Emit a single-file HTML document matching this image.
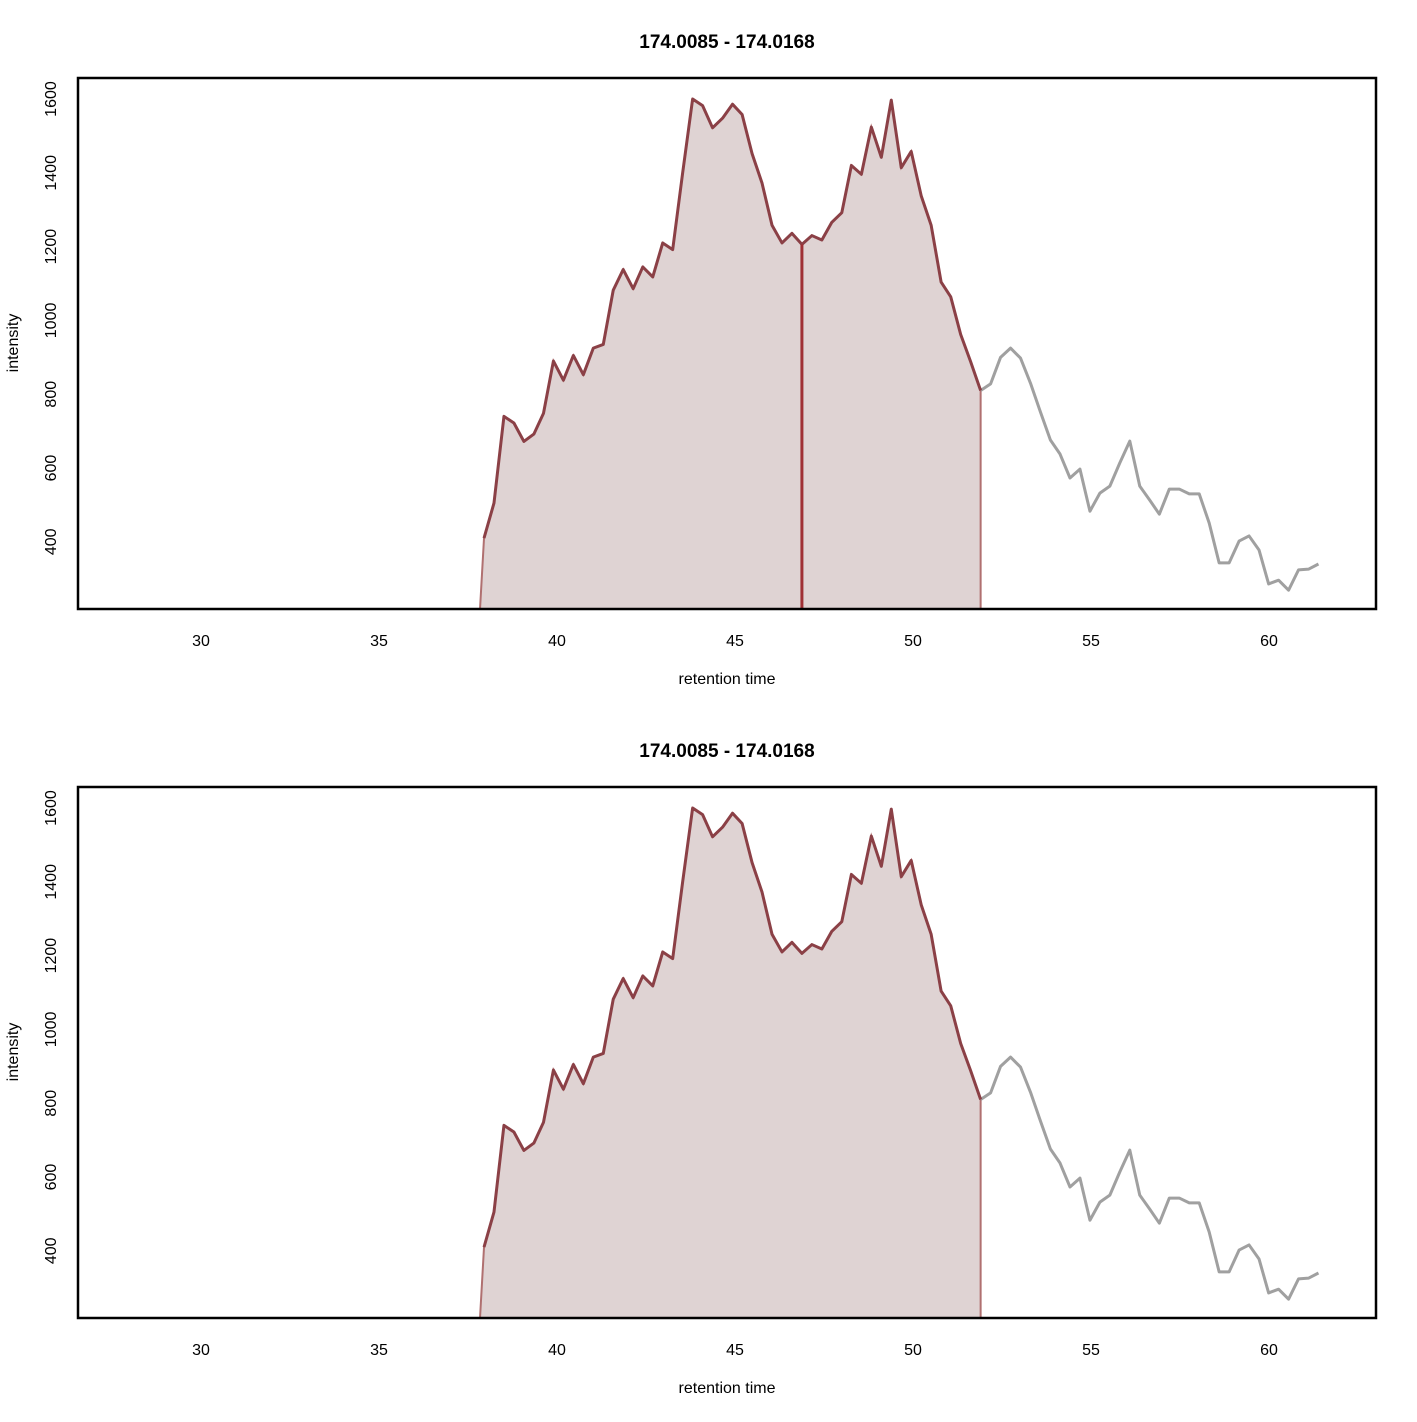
<!DOCTYPE html>
<html><head><meta charset="utf-8"><style>
body{margin:0;background:#fff}
svg text{font-family:"Liberation Sans",Arial,sans-serif;fill:#000}
</style></head><body>
<svg id="svg" width="1417" height="1417" xmlns="http://www.w3.org/2000/svg"></svg>
<script>
const times=[37.95,38.23,38.51,38.79,39.07,39.35,39.62,39.90,40.18,40.46,40.74,41.02,41.30,41.58,41.86,42.14,42.41,42.69,42.97,43.25,43.53,43.81,44.09,44.37,44.65,44.93,45.20,45.48,45.76,46.04,46.32,46.60,46.88,47.16,47.44,47.72,48.00,48.27,48.55,48.83,49.11,49.39,49.67,49.95,50.23,50.51,50.79,51.06,51.34,51.62,51.90,52.18,52.46,52.74,53.02,53.30,53.58,53.86,54.13,54.41,54.69,54.97,55.25,55.53,55.81,56.09,56.37,56.65,56.92,57.20,57.48,57.76,58.04,58.32,58.60,58.88,59.16,59.44,59.72,59.99,60.27,60.55,60.83,61.11,61.39];
const intensity=[410,505,740,722,672,692,748,890,838,905,853,925,935,1082,1138,1086,1145,1118,1210,1192,1400,1600,1582,1522,1548,1586,1558,1452,1372,1258,1210,1236,1206,1230,1218,1266,1292,1420,1396,1524,1442,1597,1414,1458,1338,1258,1104,1064,962,888,810,828,900,925,898,830,752,676,638,573,597,483,532,551,614,673,551,513,475,543,543,530,530,451,343,343,402,416,378,286,296,269,324,326,340];
const xTicks=[30,35,40,45,50,55,60];
const yTicks=[400,600,800,1000,1200,1400,1600];
const peakEndIndex=50;
const splitIndex=32;
const title="174.0085 - 174.0168";
const NS="http://www.w3.org/2000/svg";
const svg=document.getElementById('svg');
function mk(tag,attrs,parent){const e=document.createElementNS(NS,tag);for(const k in attrs)e.setAttribute(k,attrs[k]);(parent||svg).appendChild(e);return e;}
const X0=78,X1=1376,XD0=26.545,XD1=63.006,VD0=218,VD1=1657;
function xs(t){return X0+(t-XD0)/(XD1-XD0)*(X1-X0);}
function panel(off,showSplit,idx){
  const T=78+off,B=609+off;
  const ys=v=>B-(v-VD0)/(VD1-VD0)*(B-T);
  const g=mk('g',{});
  
  
  const tt=mk('text',{x:727,y:48+off,'text-anchor':'middle','font-size':19,'font-weight':'bold'},g);
  tt.textContent=title;
  
  
  // fill
  let d='M'+(xs(times[0])-4)+','+B;
  for(let i=0;i<=peakEndIndex;i++)d+=' L'+xs(times[i])+','+ys(intensity[i]);
  d+=' L'+xs(times[peakEndIndex])+','+B+' Z';
  const f=mk('path',{d:d,fill:'#dfd3d3',stroke:'#b07070','stroke-width':2},g);
  
  
  // grey line
  let gd='';for(let i=peakEndIndex;i<times.length;i++)gd+=(i==peakEndIndex?'M':' L')+xs(times[i])+','+ys(intensity[i]);
  const gl=mk('path',{d:gd,fill:'none',stroke:'#a0a0a0','stroke-width':3,'stroke-linejoin':'round'},g);
  
  
  let pd='';for(let i=0;i<=peakEndIndex;i++)pd+=(i==0?'M':' L')+xs(times[i])+','+ys(intensity[i]);
  const pl=mk('path',{d:pd,fill:'none',stroke:'#8b4046','stroke-width':3,'stroke-linejoin':'round'},g);
  
  
  if(showSplit){
    const sl=mk('line',{x1:xs(times[splitIndex]),x2:xs(times[splitIndex]),y1:ys(intensity[splitIndex]),y2:B,stroke:'#a03035','stroke-width':3},g);
    
    
  }
  const fr=mk('rect',{x:X0,y:T,width:X1-X0,height:B-T,fill:'none',stroke:'#000','stroke-width':2.5},g);
  
  
  xTicks.forEach(t=>{
    const tx=mk('text',{x:xs(t),y:B+37,'text-anchor':'middle','font-size':16},g);
    tx.textContent=t;
    
    
  });
  yTicks.forEach(v=>{
    const y=ys(v);
    const tx=mk('text',{x:0,y:0,transform:'translate(56,'+y+') rotate(-90)','text-anchor':'middle','font-size':16},g);
    tx.textContent=v;
    
    
  });
  const xl=mk('text',{x:727,y:684+off,'text-anchor':'middle','font-size':16},g);
  xl.textContent='retention time';
  
  
  const yl=mk('text',{x:0,y:0,transform:'translate(18,'+(343+off)+') rotate(-90)','text-anchor':'middle','font-size':16},g);
  yl.textContent='intensity';
  
  
}
panel(0,true,1);
panel(709,false,2);
</script>
</body></html>
